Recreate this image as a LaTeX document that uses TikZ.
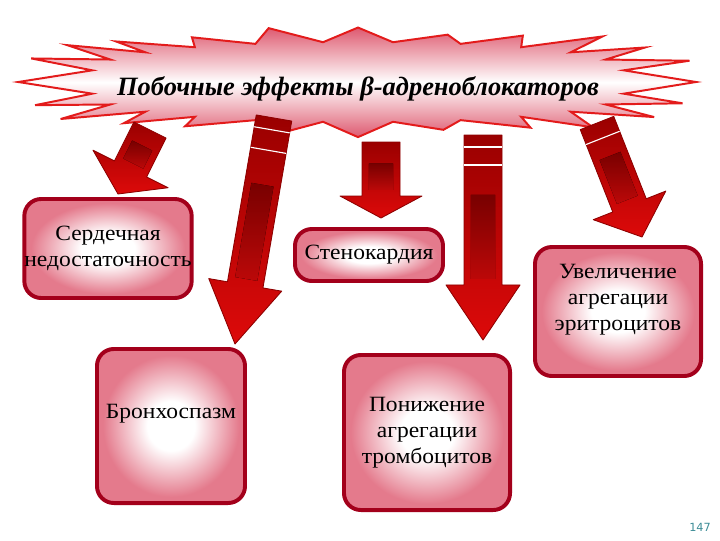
\documentclass[tikz,border=0pt]{standalone}
\usepackage{fontspec}
\setmainfont{Liberation Serif}
\newfontfamily\boxfont[FakeStretch=1.08]{Liberation Serif}
\newfontfamily\numfont{DejaVu Sans}
\usetikzlibrary{calc}
\definecolor{boxedge}{HTML}{A3001B}
\definecolor{boxpink}{HTML}{E47A8C}
\definecolor{burstred}{HTML}{E31B1B}
\definecolor{burstpink}{HTML}{DE5A70}
\definecolor{arrowdark}{HTML}{9A0000}
\definecolor{arrowred}{HTML}{DD0A0A}
\definecolor{arrowedge}{HTML}{8C0000}
\definecolor{arrowinner}{HTML}{780000}
\definecolor{pagenum}{HTML}{3C8C96}
\pgfdeclareradialshading{boxglow}{\pgfpoint{0bp}{0bp}}{color(0bp)=(white); color(8bp)=(white); color(23bp)=(boxpink); color(50bp)=(boxpink)}
\tikzset{
  effect/.style={draw=boxedge, line width=2.8pt, rounded corners=12pt, shade, shading=boxglow, align=center, font=\boxfont\fontsize{15.5}{18.4}\selectfont, inner sep=0pt},
  efftext/.style={align=center, font=\boxfont\fontsize{15.5}{18.4}\selectfont},
  burst/.style={draw=burstred, line width=1.4pt, line join=miter, top color=burstpink, bottom color=burstpink, middle color=white},
  arrowbody/.style={draw=arrowedge, line width=0.6pt, line join=round, top color=arrowdark, bottom color=arrowred},
  arrowpanel/.style={top color=arrowinner, bottom color=arrowred!85!black},
  band/.style={white, line width=0.8pt},
}
% block arrow: start, tip, shaft half width, head half width, head length
\newcommand{\blockarrow}[5]{%
  \coordinate (hb) at ($(#2)!#5!(#1)$);
  \draw[arrowbody] ($(#1)!#3!90:(#2)$) -- ($(hb)!#3!-90:(#1)$) -- ($(hb)!#4!-90:(#1)$) -- (#2)
    -- ($(hb)!#4!90:(#1)$) -- ($(hb)!#3!90:(#1)$) -- ($(#1)!#3!-90:(#2)$) -- cycle;
  \coordinate (pa) at ($(#1)!0.4!(hb)$);
  \coordinate (pb) at ($(hb)!0.15cm!(#1)$);
  \fill[arrowpanel] ($(pa)!#3-0.17cm!90:(#2)$) -- ($(pb)!#3-0.17cm!-90:(#1)$)
    -- ($(pb)!#3-0.17cm!90:(#1)$) -- ($(pa)!#3-0.17cm!-90:(#2)$) -- cycle;
}
% white bands across a shaft: start, tip, shaft half width, distance
\newcommand{\arrowband}[4]{%
  \coordinate (bd) at ($(#1)!#4!(#2)$);
  \draw[band] ($(bd)!#3!90:(#2)$) -- ($(bd)!#3!-90:(#2)$);
}
\begin{document}
\begin{tikzpicture}[x=0.025cm,y=-0.025cm,line join=round]
\useasboundingbox (0,0) rectangle (720,540);

% title
\draw[burst] plot[samples at={0,...,47}, variable=\k]
  ({358+((isodd(\k))?268:338*(1+0.025*sin(\k*97)))*cos(\k*7.5)},
   {82+((isodd(\k))?40:52*(1+0.08*sin(\k*131)))*sin(\k*7.5)*pow(abs(sin(\k*7.5))+0.0001,-0.4)}) -- cycle;
\node[font=\fontsize{18.8}{22}\selectfont\bfseries\itshape] (title) at (358,89) {Побочные эффекты β-адреноблокаторов};

% effects
\node[effect, minimum width=4.15cm, minimum height=2.475cm] (card) at (108,248.5) {Сердечная\\недостаточность};
\node[effect, minimum width=3.7cm, minimum height=3.85cm,
  label={[efftext, yshift=0.3cm]center:Бронхоспазм}] (bron) at (171,426) {};
\node[effect, minimum width=3.7cm, minimum height=1.3cm] (steno) at (369,255) {Стенокардия};
\node[effect, minimum width=4.15cm, minimum height=3.875cm] (throm) at (427,432.5) {Понижение\\агрегации\\тромбоцитов};
\node[effect, minimum width=4.15cm, minimum height=3.225cm,
  label={[efftext, yshift=0.29cm]center:Увеличение\\агрегации\\эритроцитов}] (eryth) at (618,311.5) {};

% arrows
\coordinate (s1) at (150,130); \coordinate (e1) at (118,194);
\coordinate (s2) at (274,118); \coordinate (e2) at (235,344);
\coordinate (s3) at (381,142); \coordinate (e3) at (381,218);
\coordinate (s4) at (483,135); \coordinate (e4) at (483,340);
\coordinate (s5) at (597,123); \coordinate (e5) at (642,237);
\blockarrow{s1}{e1}{0.45cm}{1.05cm}{0.7cm}
\blockarrow{s2}{e2}{0.45cm}{0.925cm}{1.5cm}
\blockarrow{s3}{e3}{0.475cm}{1.025cm}{0.55cm}
\blockarrow{s4}{e4}{0.475cm}{0.925cm}{1.375cm}
\blockarrow{s5}{e5}{0.45cm}{0.975cm}{0.85cm}
\arrowband{s2}{e2}{0.45cm}{0.3cm}
\arrowband{s2}{e2}{0.45cm}{0.82cm}
\arrowband{s4}{e4}{0.475cm}{0.3cm}
\arrowband{s4}{e4}{0.475cm}{0.75cm}
\arrowband{s5}{e5}{0.45cm}{0.4cm}

\node[font=\numfont\fontsize{8}{9}\selectfont, text=pagenum] (page) at (700,527) {147};
\end{tikzpicture}
\end{document}
